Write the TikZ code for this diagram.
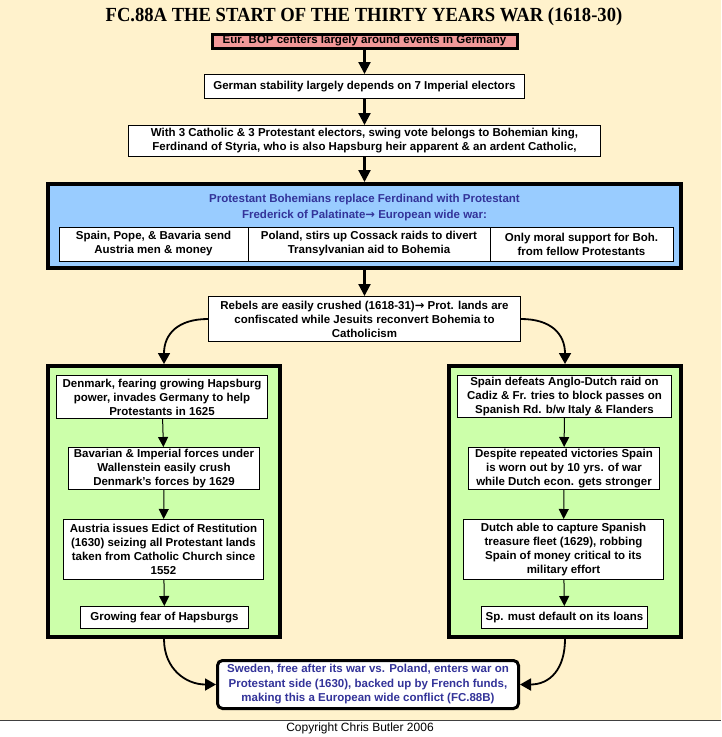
\documentclass[tikz,border=0pt]{standalone}
\usepackage{fontspec}
\setmainfont{Liberation Sans}
\newfontfamily\titlefont[FakeStretch=0.93]{Liberation Serif}
\newfontfamily\symfont{DejaVu Sans}
\usetikzlibrary{arrows.meta}
\definecolor{bgcream}{HTML}{FFF2CC}
\definecolor{pinkbox}{HTML}{F29999}
\definecolor{bluebox}{HTML}{99CCFF}
\definecolor{greenbox}{HTML}{CCFFAA}
\definecolor{bluetext}{HTML}{333399}
\begin{document}
\begin{tikzpicture}[x=1pt,y=-1pt,
  txt/.style={font=\fontsize{11.5}{14}\selectfont\bfseries, align=center, inner sep=0pt},
  box/.style 2 args={txt, draw=black, line width=1pt, fill=white, minimum width=#1, minimum height=#2},
  bigbox/.style 2 args={draw=black, line width=4pt, minimum width=#1, minimum height=#2, inner sep=0pt},
  mainarrow/.style={line width=2.2pt, -{Triangle[width=12pt,length=12pt]}},
  curvearrow/.style={line width=1.8pt, -{Triangle[width=12pt,length=11pt]}},
  innerarrow/.style={line width=1pt, -{Triangle[width=10pt,length=10pt]}}
]
\useasboundingbox (0,0) rectangle (721,737);
\fill[white] (0,0) rectangle (721,737);
\fill[bgcream] (0,0) rectangle (721,720);
\draw[line width=0.8pt, black!75] (0,720) -- (721,720);

% title
\node[inner sep=0pt, font=\titlefont\bfseries\fontsize{20}{22}\selectfont] (title) at (364,17) {FC.88A THE START OF THE THIRTY YEARS WAR (1618-30)};

% main column
\node[box={305pt}{14pt}, fill=pinkbox, line width=3pt] (b1) at (364.5,41) {Eur. BOP centers largely around events in Germany};
\node[box={320pt}{24pt}] (b2) at (364.5,86.5) {German stability largely depends on 7 Imperial electors};
\node[box={472pt}{31pt}] (b3) at (364.5,141) {With 3 Catholic \& 3 Protestant electors, swing vote belongs to Bohemian king,\\Ferdinand of Styria, who is also Hapsburg heir apparent \& an ardent Catholic,};

% blue box
\node[bigbox={633pt}{84pt}, fill=bluebox] (blue) at (364.5,226) {};
\node[txt, text=bluetext, font=\fontsize{11.5}{16.5}\selectfont\bfseries] (bluetitle) at (364.5,207.5) {Protestant Bohemians replace Ferdinand with Protestant\\Frederick of Palatinate{\symfont\bfseries→} European wide war:};
\node[box={189pt}{34pt}] (c1) at (153.5,244) {Spain, Pope, \& Bavaria send\\Austria men \& money};
\node[box={242pt}{34pt}] (c2) at (369,244) {Poland, stirs up Cossack raids to divert\\Transylvanian aid to Bohemia};
\node[box={183pt}{34pt}] (c3) at (581.5,244) {Only moral support for Boh.\\from fellow Protestants};

\node[box={312pt}{45pt}] (rebels) at (364.5,319) {Rebels are easily crushed (1618-31){\symfont\bfseries→} Prot. lands are\\confiscated while Jesuits reconvert Bohemia to\\Catholicism};

% green boxes
\node[bigbox={232pt}{271pt}, fill=greenbox] (lg) at (164,501.5) {};
\node[bigbox={232pt}{271pt}, fill=greenbox] (rg) at (565,501.5) {};

\node[box={211pt}{43pt}] (den) at (162,397) {Denmark, fearing growing Hapsburg\\power, invades Germany to help\\Protestants in 1625};
\node[box={191pt}{42pt}] (bav) at (164,468.5) {Bavarian \& Imperial forces under\\Wallenstein easily crush\\Denmark’s forces by 1629};
\node[box={200pt}{60pt}] (aus) at (163.5,549.5) {Austria issues Edict of Restitution\\(1630) seizing all Protestant lands\\taken from Catholic Church since\\1552};
\node[box={168pt}{22pt}] (fear) at (164.5,617.5) {Growing fear of Hapsburgs};

\node[box={214pt}{42pt}] (spain) at (564.5,396.5) {Spain defeats Anglo-Dutch raid on\\Cadiz \& Fr. tries to block passes on\\Spanish Rd. b/w Italy \& Flanders};
\node[box={191pt}{42pt}] (despite) at (564,468.5) {Despite repeated victories Spain\\is worn out by 10 yrs. of war\\while Dutch econ. gets stronger};
\node[box={200pt}{60pt}] (dutch) at (563.5,549.5) {Dutch able to capture Spanish\\treasure fleet (1629), robbing\\Spain of money critical to its\\military effort};
\node[box={166pt}{22pt}] (default) at (564.5,617.5) {Sp. must default on its loans};

% Sweden
\node[box={301pt}{48pt}, line width=3pt, rounded corners=5pt, text=bluetext, font=\fontsize{11.5}{14.5}\selectfont\bfseries] (sweden) at (368,684.5) {Sweden, free after its war vs. Poland, enters war on\\Protestant side (1630), backed up by French funds,\\making this a European wide conflict (FC.88B)};

% copyright
\node[inner sep=0pt, font=\fontsize{12}{14}\selectfont] (copy) at (360,728.5) {Copyright Chris Butler 2006};

% connectors
\draw[mainarrow] (b1) -- (b2);
\draw[mainarrow] (b2) -- (b3);
\draw[mainarrow] (b3) -- (blue);
\draw[mainarrow] (blue) -- (rebels);
\draw[curvearrow] (rebels.west) .. controls +(-30,0) and +(0,-30) .. (lg.north);
\draw[curvearrow] (rebels.east) .. controls +(30,0) and +(0,-30) .. (rg.north);
\draw[innerarrow] (den) -- (bav);
\draw[innerarrow] (bav) -- (aus);
\draw[innerarrow] (aus) -- (fear);
\draw[innerarrow] (spain) -- (despite);
\draw[innerarrow] (despite) -- (dutch);
\draw[innerarrow] (dutch) -- (default);
\draw[curvearrow] (lg.south) .. controls +(0,30) and +(-30,0) .. (sweden.west);
\draw[curvearrow] (rg.south) .. controls +(0,30) and +(30,0) .. (sweden.east);
\end{tikzpicture}
\end{document}
